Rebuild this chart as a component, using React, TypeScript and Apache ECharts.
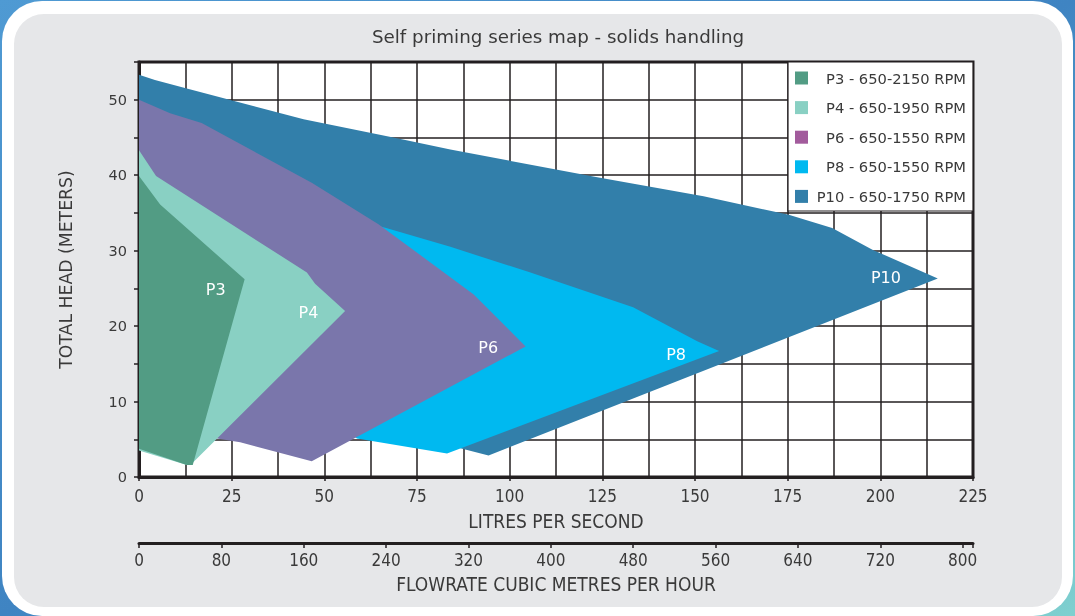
import React, { useEffect, useRef } from "react";
import * as echarts from "echarts";

// ---- data ----
const pumpNames = ["P3", "P4", "P6", "P8", "P10"];
const legendLabels = [
  "P3 - 650-2150 RPM",
  "P4 - 650-1950 RPM",
  "P6 - 650-1550 RPM",
  "P8 - 650-1550 RPM",
  "P10 - 650-1750 RPM",
];
const fillColors = ["#529c84", "#89d0c3", "#7a76ab", "#00b9f0", "#327faa"];
const legendColors = ["#529c84", "#89d0c3", "#a25b9c", "#00b9f0", "#327faa"];

// outlines: [litres per second, head in metres]
const p3Outline = [[0, 39.9], [5.7, 36.1], [28.5, 26.2], [14.5, 1.6], [12.9, 1.6], [0, 3.75]];
const p4Outline = [[0, 43.3], [4.6, 39.9], [45.3, 27.1], [47.5, 25.6], [55.6, 22.0], [14.7, 2.0], [12.9, 1.6], [0, 3.5]];
const p6Outline = [[0, 50], [8.4, 48.2], [16.9, 46.9], [46.6, 39], [64.6, 33.5], [90.3, 24.2], [104.3, 17.3], [46.6, 2.1], [27.3, 4.6], [21, 5.1], [0, 10]];
const p8Outline = [[40, 36.5], [64.6, 33.3], [84, 30.5], [105, 27.2], [133.3, 22.5], [150.6, 18.0], [156.5, 16.7], [83.1, 3.1], [58.8, 5.1], [40, 12]];
const p10Outline = [[0, 53.3], [4.3, 52.6], [12.9, 51.5], [44.4, 47.4], [69.6, 44.9], [84, 43.4], [124, 39.7], [152.3, 37.2], [175.3, 34.75], [187, 33], [198, 30.1], [215.5, 26.3], [94.3, 2.85], [86.7, 3.8], [70, 15], [0, 30]];
const outlines = [p3Outline, p4Outline, p6Outline, p8Outline, p10Outline];
const labelPositions = [[20.7, 24.9], [45.7, 21.8], [94.2, 17.2], [144.9, 16.3], [201.5, 26.4]];

const lpsRange = [0, 225];
const headRange = [0, 55];
const m3hRange = [0, 810];
const lpsStep = 25;
const headStep = 5;
const headLabelStep = 10;
const m3hStep = 80;

const NARROW = "'Liberation Sans Narrow', 'DejaVu Sans Condensed', 'Arial Narrow', sans-serif";
const SANS = "'DejaVu Sans', sans-serif";
const INK = "#231f20";
const TEXT = "#3a3a3a";

export default function App() {
  const ref = useRef<HTMLDivElement>(null);
  useEffect(() => {
    if (!ref.current) return;
    const chart = echarts.init(ref.current, null, { renderer: "svg" });

    const order = [4, 3, 2, 1, 0]; // back to front
    const series = order.map((i) => ({
      type: "custom",
      name: pumpNames[i],
      coordinateSystem: "cartesian2d",
      xAxisIndex: 0,
      yAxisIndex: 0,
      data: outlines[i],
      encode: { x: 0, y: 1 },
      silent: true,
      renderItem: (params: any, api: any) => {
        if (params.dataIndex !== 0) return null;
        const pts = outlines[i].map((p) => api.coord(p));
        const lp = api.coord(labelPositions[i]);
        return {
          type: "group",
          children: [
            { type: "polygon", shape: { points: pts }, style: { fill: fillColors[i] } },
            {
              type: "text",
              x: lp[0],
              y: lp[1],
              style: {
                text: pumpNames[i],
                fill: "#ffffff",
                fontSize: 16,
                fontFamily: SANS,
                align: "center",
                verticalAlign: "middle",
              },
            },
          ],
        };
      },
    }));

    const legendX = 788;
    const legendY = 62;
    const legendW = 185;
    const legendH = 149;
    const legendEls: any[] = [
      {
        type: "rect",
        z: 50,
        shape: { x: legendX, y: legendY, width: legendW, height: legendH },
        style: { fill: "#ffffff", stroke: INK, lineWidth: 1.2 },
      },
    ];
    legendLabels.forEach((t, k) => {
      const cy = 78 + k * 29.6;
      legendEls.push({
        type: "rect",
        z: 51,
        shape: { x: 795, y: cy - 6.5, width: 13, height: 13 },
        style: { fill: legendColors[k] },
      });
      legendEls.push({
        type: "text",
        z: 51,
        x: 966,
        y: cy,
        style: { text: t, fill: TEXT, fontSize: 14.7, fontFamily: SANS, align: "right", verticalAlign: "middle" },
      });
    });

    const option: any = {
      animation: false,
      title: {
        text: "Self priming series map - solids handling",
        left: 553,
        top: 22,
        textAlign: "center",
        textStyle: { fontFamily: SANS, fontSize: 18.3, fontWeight: "normal", color: TEXT },
      },
      grid: {
        left: 139,
        right: 102,
        top: 62,
        bottom: 139,
        show: true,
        backgroundColor: "#ffffff",
        borderColor: INK,
        borderWidth: 3,
        containLabel: false,
      },
      xAxis: [
        {
          type: "value",
          min: lpsRange[0],
          max: lpsRange[1],
          interval: lpsStep,
          position: "bottom",
          axisLine: { show: true, lineStyle: { color: INK, width: 3 } },
          axisTick: { show: true, length: 4, lineStyle: { color: INK, width: 1.5 } },
          axisLabel: { color: TEXT, fontFamily: NARROW, fontSize: 17, margin: 10 },
          splitLine: { show: true, lineStyle: { color: INK, width: 1.5 } },
          minorTick: { show: false, splitNumber: 2 },
          minorSplitLine: { show: true, lineStyle: { color: INK, width: 1.5 } },
          name: "LITRES PER SECOND",
          nameLocation: "middle",
          nameGap: 34,
          nameTextStyle: { color: TEXT, fontFamily: NARROW, fontSize: 19 },
        },
        {
          type: "value",
          min: m3hRange[0],
          max: m3hRange[1],
          interval: m3hStep,
          position: "bottom",
          offset: 66,
          axisLine: { show: true, lineStyle: { color: INK, width: 3 } },
          axisTick: { show: true, length: 5, lineStyle: { color: INK, width: 1.5 } },
          axisLabel: {
            color: TEXT,
            fontFamily: NARROW,
            fontSize: 17,
            margin: 8,
            formatter: (v: number) => (v % m3hStep === 0 ? String(v) : ""),
          },
          splitLine: { show: false },
          name: "FLOWRATE CUBIC METRES PER HOUR",
          nameLocation: "middle",
          nameGap: 31,
          nameTextStyle: { color: TEXT, fontFamily: NARROW, fontSize: 19 },
        },
      ],
      yAxis: {
        type: "value",
        min: headRange[0],
        max: headRange[1],
        interval: headStep,
        axisLine: { show: true, lineStyle: { color: INK, width: 3 } },
        axisTick: { show: true, length: 5, lineStyle: { color: INK, width: 1.5 } },
        axisLabel: {
          color: TEXT,
          fontFamily: SANS,
          fontSize: 14.5,
          margin: 12,
          formatter: (v: number) => (v % headLabelStep === 0 ? String(v) : ""),
        },
        splitLine: { show: true, lineStyle: { color: INK, width: 1.5 } },
        name: "TOTAL HEAD (METERS)",
        nameLocation: "middle",
        nameGap: 65,
        nameRotate: 90,
        nameTextStyle: { color: TEXT, fontFamily: SANS, fontSize: 17.3 },
      },
      graphic: [
        {
          type: "rect",
          z: -30,
          silent: true,
          shape: { x: 0, y: 0, width: 1075, height: 616 },
          style: {
            fill: new echarts.graphic.LinearGradient(0, 0, 1, 1, [
              { offset: 0, color: "#4f9ad3" },
              { offset: 0.5, color: "#3f84c2" },
              { offset: 1, color: "#7fd0cf" },
            ]),
          },
        },
        {
          type: "rect",
          z: -29,
          silent: true,
          shape: { x: 2, y: 1, width: 1071, height: 615, r: 40 },
          style: { fill: "#ffffff" },
        },
        {
          type: "rect",
          z: -28,
          silent: true,
          shape: { x: 14, y: 14, width: 1048, height: 593, r: 30 },
          style: { fill: "#e6e7e9" },
        },
        ...legendEls,
      ],
      series,
    };

    chart.setOption(option);
    return () => chart.dispose();
  }, []);

  return (
    <div
      ref={ref}
      style={{ position: "fixed", left: 0, top: 0, width: 1075, height: 616 }}
    />
  );
}
